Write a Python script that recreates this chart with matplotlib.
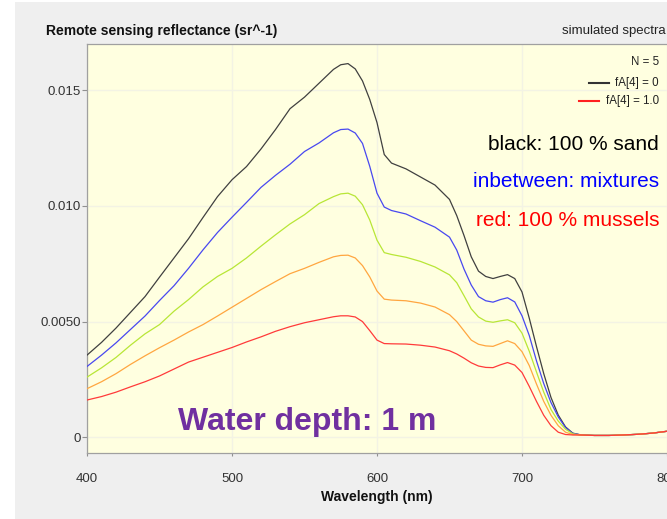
import matplotlib
matplotlib.use("Agg")
import matplotlib.pyplot as plt
from matplotlib.patches import Rectangle
from matplotlib.lines import Line2D

plt.rcParams['font.family'] = ['Liberation Sans', 'DejaVu Sans']

# Wavelength grid (nm)
wavelength = [400, 410, 420, 430, 440, 450, 460, 470, 480, 490, 500, 510, 520, 530, 540, 550, 560,
              570, 575, 580, 585, 590, 595, 600, 605, 610,
              620, 630, 640, 650,
              655, 660, 665, 670, 675, 680, 685, 690, 695, 700, 705, 710, 715, 720, 725, 730, 735, 740,
              750, 760, 770, 780, 790, 800]

# Remote sensing reflectance (sr^-1), fA[4] = 0 (100 % sand)
rrs_fa00 = [0.00355, 0.00410, 0.00472, 0.00540, 0.00608, 0.00692, 0.00775, 0.00858, 0.00950, 0.01040,
            0.01113, 0.01170, 0.01246, 0.01330, 0.01420, 0.01470, 0.01530,
            0.01590, 0.01610, 0.01615, 0.01592, 0.01540, 0.01460, 0.01360, 0.01222, 0.01185,
            0.01160, 0.01125, 0.01090, 0.01028,
            0.00958, 0.00872, 0.00780, 0.00718, 0.00695, 0.00686, 0.00695, 0.00703, 0.00686, 0.00628,
            0.00515, 0.00392, 0.00275, 0.00172, 0.00096, 0.00045, 0.00018, 0.00011,
            0.00008, 0.00008, 0.00010, 0.00013, 0.00018, 0.00026]

# fA[4] = 0.25
rrs_fa25 = [0.00306, 0.00355, 0.00408, 0.00466, 0.00524, 0.00591, 0.00655, 0.00730, 0.00810, 0.00885,
            0.00951, 0.01015, 0.01080, 0.01132, 0.01180, 0.01235, 0.01272,
            0.01316, 0.01330, 0.01332, 0.01315, 0.01270, 0.01171, 0.01055, 0.00995, 0.00980,
            0.00965, 0.00936, 0.00908, 0.00865,
            0.00809, 0.00727, 0.00658, 0.00608, 0.00590, 0.00584, 0.00595, 0.00603, 0.00585, 0.00525,
            0.00440, 0.00330, 0.00232, 0.00150, 0.00088, 0.00042, 0.00017, 0.00011,
            0.00008, 0.00008, 0.00010, 0.00013, 0.00018, 0.00026]

# fA[4] = 0.5
rrs_fa50 = [0.00260, 0.00300, 0.00345, 0.00398, 0.00447, 0.00487, 0.00545, 0.00595, 0.00650, 0.00695,
            0.00730, 0.00775, 0.00826, 0.00875, 0.00922, 0.00962, 0.01010,
            0.01040, 0.01052, 0.01055, 0.01042, 0.01005, 0.00939, 0.00852, 0.00798, 0.00790,
            0.00778, 0.00760, 0.00736, 0.00702,
            0.00668, 0.00612, 0.00555, 0.00520, 0.00502, 0.00497, 0.00503, 0.00508, 0.00495, 0.00450,
            0.00372, 0.00282, 0.00195, 0.00120, 0.00070, 0.00035, 0.00015, 0.00010,
            0.00008, 0.00008, 0.00010, 0.00013, 0.00018, 0.00026]

# fA[4] = 0.75
rrs_fa75 = [0.00210, 0.00240, 0.00275, 0.00315, 0.00352, 0.00387, 0.00420, 0.00455, 0.00487, 0.00524,
            0.00562, 0.00600, 0.00638, 0.00673, 0.00707, 0.00730, 0.00756,
            0.00780, 0.00786, 0.00787, 0.00775, 0.00742, 0.00693, 0.00632, 0.00597, 0.00593,
            0.00590, 0.00580, 0.00563, 0.00530,
            0.00500, 0.00460, 0.00420, 0.00402, 0.00395, 0.00393, 0.00405, 0.00417, 0.00405, 0.00370,
            0.00310, 0.00230, 0.00155, 0.00095, 0.00050, 0.00022, 0.00012, 0.00010,
            0.00008, 0.00008, 0.00010, 0.00013, 0.00018, 0.00026]

# fA[4] = 1.0 (100 % mussels)
rrs_fa100 = [0.00161, 0.00176, 0.00195, 0.00218, 0.00240, 0.00265, 0.00295, 0.00325, 0.00346, 0.00367,
             0.00388, 0.00412, 0.00434, 0.00458, 0.00478, 0.00495, 0.00508,
             0.00521, 0.00525, 0.00525, 0.00520, 0.00500, 0.00461, 0.00420, 0.00405, 0.00404,
             0.00403, 0.00398, 0.00390, 0.00374,
             0.00360, 0.00342, 0.00322, 0.00308, 0.00302, 0.00301, 0.00313, 0.00323, 0.00312, 0.00280,
             0.00220, 0.00155, 0.00095, 0.00050, 0.00022, 0.00012, 0.00010, 0.00010,
             0.00008, 0.00008, 0.00010, 0.00013, 0.00018, 0.00026]

series = [rrs_fa00, rrs_fa25, rrs_fa50, rrs_fa75, rrs_fa100]
colors = ['#404040', '#4848f0', '#b8e636', '#ffa640', '#ff3a3a']

x_ticks = [400, 500, 600, 700, 800]
y_ticks = [0, 0.005, 0.010, 0.015]
y_tick_labels = ['0', '0.0050', '0.010', '0.015']

W, H = 667, 519


def fx(px):
    return px / W


def fy(py):
    return 1 - py / H


fig = plt.figure(figsize=(W / 100, H / 100), dpi=100)
fig.patch.set_facecolor('white')
fig.add_artist(Rectangle((fx(15), 0), 1, fy(2), transform=fig.transFigure,
                         facecolor='#efefef', edgecolor='none', zorder=0))

ax_left, ax_right, ax_top, ax_bottom = 87, 667, 44.5, 452.7
ax = fig.add_axes([fx(ax_left), fy(ax_bottom), (ax_right - ax_left) / W, (ax_bottom - ax_top) / H])
ax.set_facecolor('#ffffe0')

for vals, col in zip(series, colors):
    ax.plot(wavelength, vals, color=col, lw=0.9, solid_joinstyle='round', zorder=3)

ax.set_xlim(400, 800)
ax.set_ylim(-0.000666, 0.016975)
ax.set_xticks(x_ticks)
ax.set_yticks(y_ticks)
ax.set_yticklabels(y_tick_labels)
ax.grid(True, color='#f3f3e4', lw=1.0, zorder=1)
ax.set_axisbelow(True)

for side in ['left', 'top', 'bottom']:
    ax.spines[side].set_color('#a0a0a0')
    ax.spines[side].set_linewidth(0.9)
ax.spines['right'].set_visible(False)

ax.tick_params(axis='y', length=3.4, width=0.8, color='#909090', labelsize=9.5,
               labelcolor='#333333', pad=1.2)
ax.tick_params(axis='x', length=1.8, width=0.8, color='#909090', labelsize=9.5,
               labelcolor='#333333', pad=12.5)

ax.set_xlabel('Wavelength (nm)', fontsize=10, fontweight='bold', color='#111111')
ax.xaxis.label.set_va('center')
ax.xaxis.set_label_coords(0.5, -(497 - ax_bottom) / (ax_bottom - ax_top))

# header texts
fig.text(fx(46), fy(31), 'Remote sensing reflectance (sr^-1)', fontsize=10, fontweight='bold',
         color='#111111', ha='left', va='center')
fig.text(fx(562), fy(31), 'simulated spectra', fontsize=9.5, color='#222222', ha='left', va='center')

# legend block
fig.text(fx(659), fy(61.7), 'N = 5', fontsize=8.3, color='#222222', ha='right', va='center')
fig.text(fx(659), fy(83.3), 'fA[4] = 0', fontsize=8.3, color='#222222', ha='right', va='center')
fig.text(fx(659), fy(101), 'fA[4] = 1.0', fontsize=8.3, color='#222222', ha='right', va='center')
fig.add_artist(Line2D([fx(589), fx(609)], [fy(83.3), fy(83.3)], color='#333333', lw=1.5,
                      transform=fig.transFigure))
fig.add_artist(Line2D([fx(579), fx(599)], [fy(101), fy(101)], color='#ff2020', lw=1.5,
                      transform=fig.transFigure))

# explanatory notes
fig.text(fx(659), fy(144), 'black: 100 % sand', fontsize=15, color='black', ha='right', va='center')
fig.text(fx(659), fy(181.7), 'inbetween: mixtures', fontsize=15, color='#0000ff', ha='right', va='center')
fig.text(fx(659), fy(220), 'red: 100 % mussels', fontsize=15, color='#ff0000', ha='right', va='center')

fig.text(fx(178), fy(421.7), 'Water depth: 1 m', fontsize=23, fontweight='bold', color='#7030a0',
         ha='left', va='center')

fig.savefig('out.png', dpi=100, facecolor=fig.get_facecolor())
